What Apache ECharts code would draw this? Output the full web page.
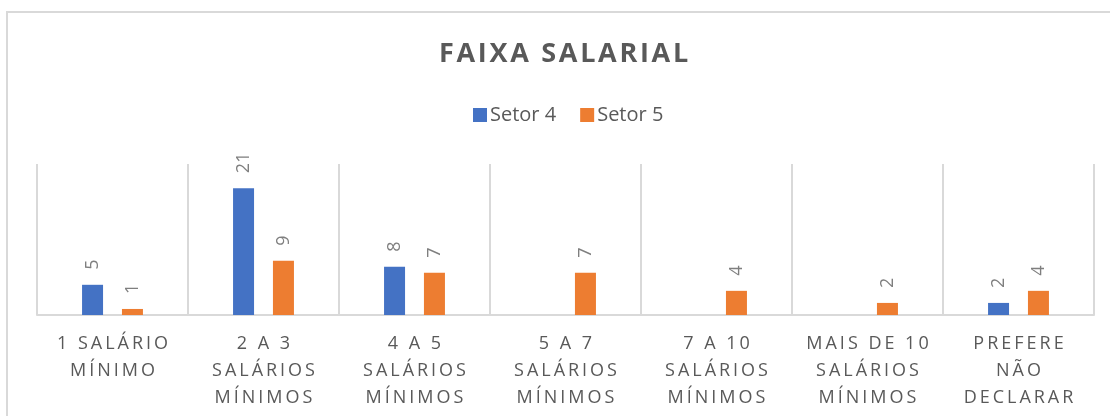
<!DOCTYPE html>
<html>
<head>
<meta charset="utf-8">
<script src="https://cdn.jsdelivr.net/npm/echarts@6/dist/echarts.min.js"></script>
<style>
    html, body { margin: 0; padding: 0; background: #fff; overflow: hidden; }
    #chart { position: absolute; left: 0; top: 0; width: 1110px; height: 416px; }
    /* moldura cinza do gráfico (sai pela direita e por baixo) */
    #frame { position: absolute; left: 6px; top: 11px; width: 1120px; height: 420px;
             border: 2px solid #d9d9d9; box-sizing: border-box; pointer-events: none; }
</style>
</head>
<body>
<div id="chart"></div>
<div id="frame"></div>
<script>
const categories = [
    '1 SALÁRIO\nMÍNIMO',
    '2 A 3\nSALÁRIOS\nMÍNIMOS',
    '4 A 5\nSALÁRIOS\nMÍNIMOS',
    '5 A 7\nSALÁRIOS\nMÍNIMOS',
    '7 A 10\nSALÁRIOS\nMÍNIMOS',
    'MAIS DE 10\nSALÁRIOS\nMÍNIMOS',
    'PREFERE\nNÃO\nDECLARAR'
];
const setor4 = [5, 21, 8, null, null, null, 2];
const setor5 = [1, 9, 7, 7, 4, 2, 4];

// espaçamento entre letras, como no original
function spaced(text, gap) {
    return text.split('\n').map(l => l.split('').join(gap)).join('\n');
}

const chart = echarts.init(document.getElementById('chart'));

const labelStyle = {
    show: true,
    position: 'top',
    rotate: 90,
    align: 'left',
    verticalAlign: 'middle',
    distance: 15,
    color: '#7f7f7f',
    fontSize: 18,
    fontFamily: 'Open Sans'
};

const option = {
    animation: false,
    title: {
        text: spaced('FAIXA SALARIAL', '\u200A'),
        left: 439,
        top: 41,
        padding: 0,
        textStyle: {
            color: '#595959',
            fontSize: 27,
            fontWeight: 'bold',
            fontFamily: 'Open Sans'
        }
    },
    legend: {
        top: 105,
        left: 473,
        padding: 0,
        itemWidth: 14,
        itemHeight: 14,
        itemGap: 24,
        icon: 'rect',
        textStyle: { color: '#595959', fontSize: 20, fontFamily: 'Open Sans', padding: [0, 0, 0, -2] },
        data: ['Setor 4', 'Setor 5']
    },
    grid: { left: 37, right: 16, top: 164, bottom: 101 },
    xAxis: {
        type: 'category',
        data: categories,
        axisLine: { lineStyle: { color: '#d9d9d9', width: 2 } },
        axisTick: { show: false },
        splitLine: { show: true, lineStyle: { color: '#d9d9d9', width: 2 } },
        axisLabel: {
            interval: 0,
            margin: 15,
            color: '#595959',
            fontSize: 18,
            lineHeight: 27,
            fontFamily: 'Open Sans',
            formatter: v => spaced(v, '\u2009')
        }
    },
    yAxis: {
        type: 'value',
        min: 0,
        max: 25,
        show: false
    },
    series: [
        {
            name: 'Setor 4',
            type: 'bar',
            data: setor4,
            barWidth: 21,
            barGap: '90%',
            itemStyle: { color: '#4472c4' },
            label: labelStyle
        },
        {
            name: 'Setor 5',
            type: 'bar',
            data: setor5,
            barWidth: 21,
            itemStyle: { color: '#ed7d31' },
            label: labelStyle
        }
    ]
};

chart.setOption(option);
</script>
</body>
</html>
